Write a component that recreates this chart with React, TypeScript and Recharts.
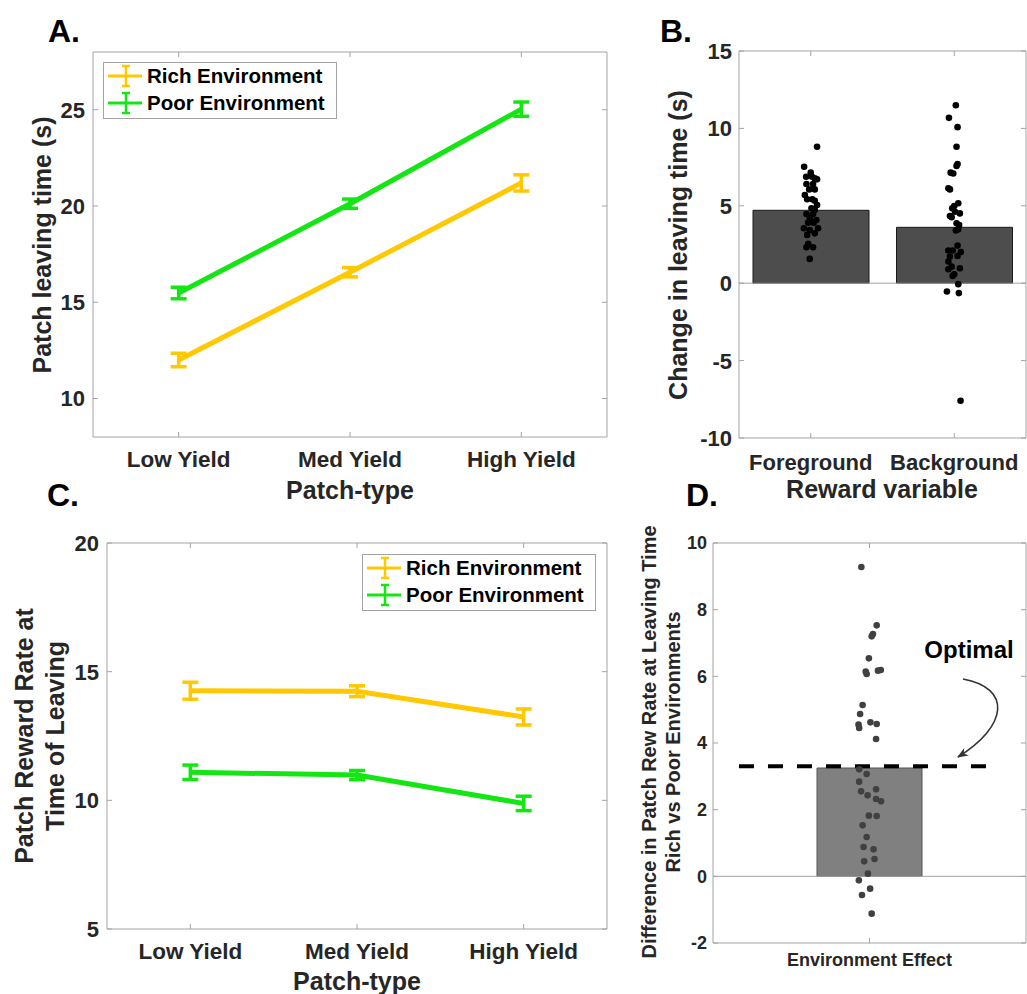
import React from 'react'
import {
  LineChart,
  Line,
  XAxis,
  YAxis,
  ErrorBar,
  Legend,
  ReferenceArea,
  ReferenceLine,
  ComposedChart,
  Bar,
  Scatter,
} from 'recharts'

const FONT = '"Liberation Sans", Arial, Helvetica, sans-serif'
const INK = '#262626'
const BOX = '#a3a3a3'
const RICH = '#ffc800'
const POOR = '#14e614'

// A / C: patch types
const patchTypes = ['Low Yield', 'Med Yield', 'High Yield']
const patchX = [1, 2, 3]
const leaveRich = [12.0, 16.56, 21.2]
const leaveRichErr = [0.35, 0.24, 0.42]
const leavePoor = [15.48, 20.12, 25.03]
const leavePoorErr = [0.3, 0.24, 0.37]
const rateRich = [14.26, 14.24, 13.24]
const rateRichErr = [0.33, 0.21, 0.31]
const ratePoor = [11.09, 10.98, 9.88]
const ratePoorErr = [0.28, 0.18, 0.28]
const seriesOrder = ['rich', 'poor']

// B: reward variable
const rewardVars = ['Foreground', 'Background']
const changeMeans = [4.71, 3.61]
const fgX = [1.044, 0.954, 1.0, 0.968, 1.009, 1.044, 1.028, 0.97, 1.016, 0.989, 1.028, 0.959, 0.975, 1.011, 1.028, 1.044, 1.005, 1.028, 0.97, 1.016, 0.993, 1.039, 0.982, 1.021, 0.952, 1.051, 0.993, 0.975, 1.028, 0.982, 0.97, 1.016, 0.993]
const fgY = [8.81, 7.52, 7.14, 6.88, 6.88, 6.71, 6.77, 6.41, 6.41, 6.06, 6.06, 5.7, 5.42, 5.42, 5.33, 5.05, 4.84, 4.73, 4.47, 4.47, 4.19, 4.08, 3.91, 3.91, 3.55, 3.55, 3.44, 3.12, 3.22, 2.54, 2.32, 2.32, 1.57]
const bgX = [2.011, 1.963, 2.023, 2.016, 2.023, 2.016, 1.975, 1.993, 1.959, 1.97, 2.028, 2.0, 1.986, 2.005, 2.039, 1.97, 1.982, 2.016, 2.034, 2.011, 2.028, 2.023, 1.959, 1.989, 2.046, 1.97, 2.023, 1.959, 1.982, 2.039, 1.959, 2.0, 1.989, 2.028, 1.949, 2.032, 2.044]
const bgY = [11.5, 10.68, 10.08, 8.81, 7.7, 7.57, 7.14, 7.09, 6.13, 6.06, 5.16, 4.99, 4.84, 4.62, 4.51, 4.34, 4.26, 3.87, 3.76, 3.4, 3.48, 2.43, 2.11, 2.11, 2.02, 1.72, 1.76, 1.4, 1.07, 0.97, 0.9, 0.58, 0.47, -0.06, -0.54, -0.64, -7.59]

// D: environment effect
const effectLabels = ['Environment Effect']
const effectMean = [3.25]
const optimalValue = 3.3
const optimalSpan = [0.583, 1.385]
const envX = [0.974, 1.023, 1.011, 1.007, 0.998, 0.988, 0.991, 1.027, 1.036, 0.978, 0.97, 0.965, 0.967, 1.003, 1.023, 1.021, 0.967, 0.991, 0.967, 0.973, 0.994, 1.021, 1.021, 1.037, 0.998, 1.023, 0.978, 0.991, 0.981, 1.013, 0.983, 1.016, 0.995, 0.966, 1.002, 0.976, 1.007]
const envY = [9.28, 7.53, 7.27, 7.2, 6.54, 6.14, 6.07, 6.17, 6.19, 5.14, 4.87, 4.55, 4.45, 4.62, 4.57, 4.12, 3.21, 3.07, 2.84, 2.55, 2.43, 2.61, 2.32, 2.25, 1.82, 1.81, 1.53, 1.18, 0.88, 0.81, 0.45, 0.52, 0.08, -0.12, -0.37, -0.56, -1.12]

const leaveRows = patchX.map((x, i) => ({
  x,
  rich: leaveRich[i],
  richErr: leaveRichErr[i],
  poor: leavePoor[i],
  poorErr: leavePoorErr[i],
}))
const rateRows = patchX.map((x, i) => ({
  x,
  rich: rateRich[i],
  richErr: rateRichErr[i],
  poor: ratePoor[i],
  poorErr: ratePoorErr[i],
}))
const changeRows = rewardVars.map((name, i) => ({ name, y: changeMeans[i] }))
const fgPoints = fgX.map((x, i) => ({ x, y: fgY[i] }))
const bgPoints = bgX.map((x, i) => ({ x, y: bgY[i] }))
const effectRows = effectLabels.map((name, i) => ({ name, y: effectMean[i] }))
const envPoints = envX.map((x, i) => ({ x, y: envY[i] }))

type Box = { left: number; right: number; top: number; bottom: number }

const makeXTick = (box: Box, label: (v: number) => string, size: number, dy: number) =>
  (props: any) => {
    const c = props.payload.coordinate
    return (
      <g>
        <line x1={c} x2={c} y1={box.bottom} y2={box.bottom - 5} stroke={BOX} />
        <line x1={c} x2={c} y1={box.top} y2={box.top + 5} stroke={BOX} />
        <text x={c} y={box.bottom + dy} textAnchor="middle" fontSize={size} fontWeight="bold" fill={INK} fontFamily={FONT}>
          {label(props.payload.value)}
        </text>
      </g>
    )
  }

const makeYTick = (box: Box, size: number, gap: number) =>
  (props: any) => {
    const c = props.payload.coordinate
    return (
      <g>
        <line x1={box.left} x2={box.left + 5} y1={c} y2={c} stroke={BOX} />
        <line x1={box.right} x2={box.right - 5} y1={c} y2={c} stroke={BOX} />
        <text x={box.left - gap} y={c + size * 0.36} textAnchor="end" fontSize={size} fontWeight="bold" fill={INK} fontFamily={FONT}>
          {props.payload.value}
        </text>
      </g>
    )
  }

function EnvLegend(props: any) {
  const items = [...(props.payload || [])].sort(
    (a: any, b: any) => seriesOrder.indexOf(a.dataKey) - seriesOrder.indexOf(b.dataKey),
  )
  return (
    <svg width={234} height={57} style={{ display: 'block' }}>
      <rect x={0.5} y={0.5} width={233} height={56} fill="#fff" stroke={BOX} />
      {items.map((p: any, i: number) => {
        const cy = 14 + i * 27
        return (
          <g key={p.value}>
            <line x1={5} x2={39} y1={cy} y2={cy} stroke={p.color} strokeWidth={3} />
            <line x1={23} x2={23} y1={cy - 10} y2={cy + 10} stroke={p.color} strokeWidth={2.5} />
            <line x1={19} x2={27} y1={cy - 10} y2={cy - 10} stroke={p.color} strokeWidth={2.5} />
            <line x1={19} x2={27} y1={cy + 10} y2={cy + 10} stroke={p.color} strokeWidth={2.5} />
            <text x={44} y={cy + 7} fontSize={20.5} fontWeight="bold" fill="#000" fontFamily={FONT}>
              {p.value}
            </text>
          </g>
        )
      })}
    </svg>
  )
}

const dot = (fill: string) => (p: any) => <circle cx={p.cx} cy={p.cy} r={3.3} fill={fill} />

function PatchPanel({
  rows,
  box,
  width,
  height,
  domain,
  ticks,
  legendAt,
}: {
  rows: any[]
  box: Box
  width: number
  height: number
  domain: [number, number]
  ticks: number[]
  legendAt: { left: number; top: number }
}) {
  return (
    <LineChart
      width={width}
      height={height}
      data={rows}
      margin={{ top: box.top, right: width - box.right, left: 0, bottom: 0 }}
    >
      <XAxis
        dataKey="x"
        type="number"
        domain={[0.5, 3.5]}
        ticks={patchX}
        interval={0}
        axisLine={false}
        tickLine={false}
        height={height - box.bottom}
        tick={makeXTick(box, (v) => patchTypes[v - 1], 22.5, 30)}
      />
      <YAxis
        type="number"
        domain={domain}
        ticks={ticks}
        interval={0}
        axisLine={false}
        tickLine={false}
        width={box.left}
        tick={makeYTick(box, 22, 8)}
      />
      <ReferenceArea x1={0.5} x2={3.5} y1={domain[0]} y2={domain[1]} fill="none" stroke={BOX} ifOverflow="visible" />
      <Line type="linear" dataKey="rich" name="Rich Environment" stroke={RICH} strokeWidth={5} dot={false} activeDot={false} isAnimationActive={false}>
        <ErrorBar dataKey="richErr" direction="y" width={8} strokeWidth={3.5} stroke={RICH} />
      </Line>
      <Line type="linear" dataKey="poor" name="Poor Environment" stroke={POOR} strokeWidth={5} dot={false} activeDot={false} isAnimationActive={false}>
        <ErrorBar dataKey="poorErr" direction="y" width={8} strokeWidth={3.5} stroke={POOR} />
      </Line>
      <Legend
        layout="horizontal"
        verticalAlign="middle"
        align="center"
        content={EnvLegend}
        wrapperStyle={{ left: legendAt.left, top: legendAt.top, width: 234, height: 57 }}
      />
    </LineChart>
  )
}

const boxA: Box = { left: 93, right: 607, top: 52, bottom: 437 }
const boxB: Box = { left: 119, right: 406, top: 51, bottom: 438 }
const boxC: Box = { left: 107, right: 607, top: 63, bottom: 449 }
const boxD: Box = { left: 73, right: 386, top: 43, bottom: 443 }

function Txt({ x, y, size, children, rotate = false, anchor = 'middle', color = INK }: any) {
  return (
    <text
      x={x}
      y={y}
      fontSize={size}
      fontWeight="bold"
      fontFamily={FONT}
      fill={color}
      textAnchor={anchor}
      transform={rotate ? `rotate(-90 ${x} ${y})` : undefined}
    >
      {children}
    </text>
  )
}

export default function App() {
  return (
    <div style={{ position: 'absolute', left: 0, top: 0, width: 1027, height: 994, background: '#fff', fontFamily: FONT }}>
      {/* A */}
      <div style={{ position: 'absolute', left: 0, top: 0 }}>
        <PatchPanel rows={leaveRows} box={boxA} width={620} height={480} domain={[8, 28]} ticks={[10, 15, 20, 25]} legendAt={{ left: 103, top: 62 }} />
      </div>

      {/* C */}
      <div style={{ position: 'absolute', left: 0, top: 480 }}>
        <PatchPanel rows={rateRows} box={boxC} width={620} height={514} domain={[5, 20]} ticks={[5, 10, 15, 20]} legendAt={{ left: 362, top: 74 }} />
      </div>

      {/* B */}
      <div style={{ position: 'absolute', left: 620, top: 0 }}>
        <ComposedChart width={407} height={510} data={changeRows} margin={{ top: boxB.top, right: 407 - boxB.right, left: 0, bottom: 0 }}>
          <XAxis xAxisId="cat" dataKey="name" type="category" hide />
          <XAxis
            xAxisId="num"
            dataKey="x"
            type="number"
            domain={[0.5, 2.5]}
            ticks={[1, 2]}
            interval={0}
            axisLine={false}
            tickLine={false}
            height={510 - boxB.bottom}
            tick={makeXTick(boxB, (v) => rewardVars[v - 1], 22, 32)}
          />
          <YAxis
            dataKey="y"
            type="number"
            domain={[-10, 15]}
            ticks={[-10, -5, 0, 5, 10, 15]}
            interval={0}
            axisLine={false}
            tickLine={false}
            width={boxB.left}
            tick={makeYTick(boxB, 22, 7)}
          />
          <ReferenceArea xAxisId="num" x1={0.5} x2={2.5} y1={-10} y2={15} fill="none" stroke={BOX} ifOverflow="visible" />
          <Bar xAxisId="cat" dataKey="y" barSize={116} fill="#4d4d4d" stroke="#1a1a1a" strokeWidth={1} isAnimationActive={false} />
          <ReferenceLine xAxisId="num" y={0} stroke={BOX} />
          <Scatter xAxisId="num" data={fgPoints} dataKey="y" shape={dot('#000')} isAnimationActive={false} />
          <Scatter xAxisId="num" data={bgPoints} dataKey="y" shape={dot('#000')} isAnimationActive={false} />
        </ComposedChart>
      </div>

      {/* D */}
      <div style={{ position: 'absolute', left: 640, top: 500 }}>
        <ComposedChart width={387} height={494} data={effectRows} margin={{ top: boxD.top, right: 387 - boxD.right, left: 0, bottom: 0 }}>
          <XAxis xAxisId="cat" dataKey="name" type="category" hide />
          <XAxis
            xAxisId="num"
            dataKey="x"
            type="number"
            domain={[0.5, 1.5]}
            ticks={[1]}
            interval={0}
            axisLine={false}
            tickLine={false}
            height={494 - boxD.bottom}
            tick={makeXTick(boxD, (v) => effectLabels[v - 1], 18, 23)}
          />
          <YAxis
            dataKey="y"
            type="number"
            domain={[-2, 10]}
            ticks={[-2, 0, 2, 4, 6, 8, 10]}
            interval={0}
            axisLine={false}
            tickLine={false}
            width={boxD.left}
            tick={makeYTick(boxD, 18, 6)}
          />
          <ReferenceArea xAxisId="num" x1={0.5} x2={1.5} y1={-2} y2={10} fill="none" stroke={BOX} ifOverflow="visible" />
          <Bar xAxisId="cat" dataKey="y" barSize={105} fill="#808080" stroke="#555" strokeWidth={1} isAnimationActive={false} />
          <ReferenceLine xAxisId="num" y={0} stroke={BOX} />
          <ReferenceLine
            xAxisId="num"
            segment={[
              { x: optimalSpan[0], y: optimalValue },
              { x: optimalSpan[1], y: optimalValue },
            ]}
            stroke="#000"
            strokeWidth={4}
            strokeDasharray="15 14"
          />
          <Scatter xAxisId="num" data={envPoints} dataKey="y" shape={dot('#404040')} isAnimationActive={false} />
        </ComposedChart>
      </div>

      {/* titles and annotations */}
      <svg width={1027} height={994} style={{ position: 'absolute', left: 0, top: 0, pointerEvents: 'none' }}>
        <defs>
          <marker id="arrowHead" viewBox="0 0 10 10" refX="9" refY="5" markerWidth="7" markerHeight="7" orient="auto">
            <path d="M0,1 L10,5 L0,9 L3,5 Z" fill="#333" />
          </marker>
        </defs>
        <Txt x={48} y={42} size={32} anchor="start" color="#000">A.</Txt>
        <Txt x={660} y={42} size={32} anchor="start" color="#000">B.</Txt>
        <Txt x={47} y={506} size={32} anchor="start" color="#000">C.</Txt>
        <Txt x={686} y={506} size={32} anchor="start" color="#000">D.</Txt>

        <Txt x={51} y={245} size={25} rotate>Patch leaving time (s)</Txt>
        <Txt x={350} y={499} size={25}>Patch-type</Txt>

        <Txt x={687} y={245} size={25} rotate>Change in leaving time (s)</Txt>
        <Txt x={882} y={498} size={25}>Reward variable</Txt>

        <Txt x={33} y={736} size={25} rotate>Patch Reward Rate at</Txt>
        <Txt x={64} y={736} size={25} rotate>Time of Leaving</Txt>
        <Txt x={357} y={990} size={25}>Patch-type</Txt>

        <Txt x={656} y={742} size={20} rotate>Difference in Patch Rew Rate at Leaving Time</Txt>
        <Txt x={680} y={742} size={20} rotate>Rich vs Poor Environments</Txt>

        <Txt x={969} y={658} size={24} color="#000">Optimal</Txt>
        <path d="M963,679 C1012,688 1008,726 958,757" fill="none" stroke="#333" strokeWidth={1.6} markerEnd="url(#arrowHead)" />
      </svg>
    </div>
  )
}
